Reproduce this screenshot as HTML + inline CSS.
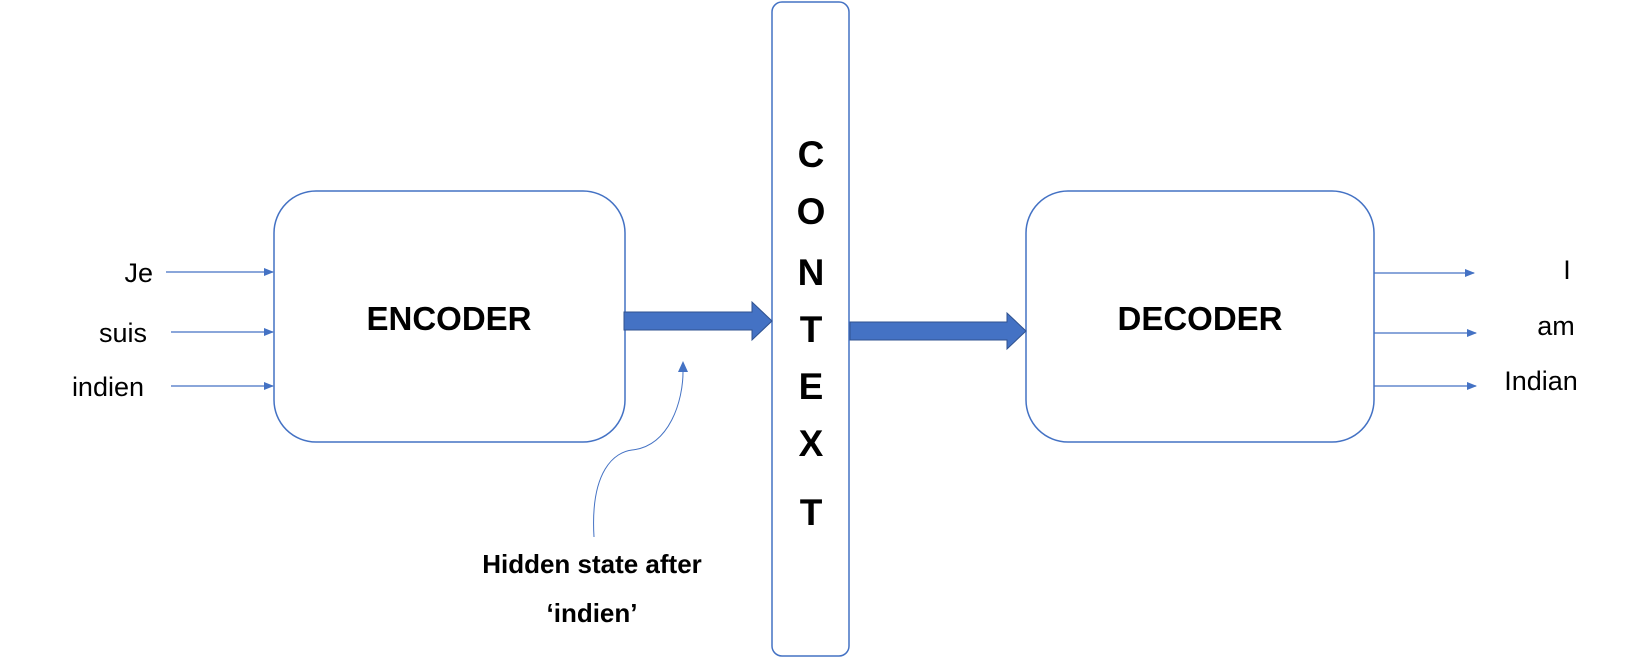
<!DOCTYPE html>
<html><head><meta charset="utf-8"><style>
html,body{margin:0;padding:0;background:#fff;width:1650px;height:659px;overflow:hidden}
svg{display:block}
text{font-family:"Liberation Sans",sans-serif;fill:#000}
</style></head><body>
<svg width="1650" height="659" viewBox="0 0 1650 659" xmlns="http://www.w3.org/2000/svg">
<defs>
<marker id="ah" markerWidth="10" markerHeight="8" refX="9" refY="4" orient="auto" markerUnits="userSpaceOnUse">
<path d="M0,0 L10,4 L0,8 Z" fill="#4472C4"/></marker>
</defs>
<rect x="274" y="191" width="351" height="251" rx="42" fill="#fff" stroke="#4472C4" stroke-width="1.5"/>
<rect x="1026" y="191" width="348" height="251" rx="42" fill="#fff" stroke="#4472C4" stroke-width="1.5"/>
<rect x="772" y="2" width="77" height="654" rx="10" fill="#fff" stroke="#4472C4" stroke-width="1.5"/>
<path d="M624,312 L752,312 L752,302 L772,321 L752,340 L752,330 L624,330 Z" fill="#4472C4" stroke="#2F528F" stroke-width="1"/>
<path d="M850,322 L1007,322 L1007,313 L1026,331 L1007,349 L1007,340 L850,340 Z" fill="#4472C4" stroke="#2F528F" stroke-width="1"/>
<line x1="166" y1="272" x2="273" y2="272" stroke="#4472C4" stroke-width="1.2" marker-end="url(#ah)"/>
<line x1="171" y1="332" x2="273" y2="332" stroke="#4472C4" stroke-width="1.2" marker-end="url(#ah)"/>
<line x1="171" y1="386" x2="273" y2="386" stroke="#4472C4" stroke-width="1.2" marker-end="url(#ah)"/>
<line x1="1374" y1="273" x2="1474" y2="273" stroke="#4472C4" stroke-width="1.2" marker-end="url(#ah)"/>
<line x1="1374" y1="333" x2="1476" y2="333" stroke="#4472C4" stroke-width="1.2" marker-end="url(#ah)"/>
<line x1="1374" y1="386" x2="1476" y2="386" stroke="#4472C4" stroke-width="1.2" marker-end="url(#ah)"/>
<path d="M594,537 C590,470 615,452 632,450 C670,446 683,400 683,372" fill="none" stroke="#4472C4" stroke-width="1"/>
<path d="M678,372 L683,361 L688,372 Z" fill="#4472C4"/>
<g font-size="27">
<text x="153" y="282" text-anchor="end">Je</text>
<text x="147" y="342" text-anchor="end">suis</text>
<text x="144" y="396" text-anchor="end">indien</text>
<text x="1567" y="279" text-anchor="middle">I</text>
<text x="1556" y="335" text-anchor="middle">am</text>
<text x="1541" y="390" text-anchor="middle">Indian</text>
</g>
<g font-size="33" font-weight="bold" text-anchor="middle">
<text x="449" y="330">ENCODER</text>
<text x="1200" y="330">DECODER</text>
</g>
<g font-size="37" font-weight="bold" text-anchor="middle">
<text x="811" y="167">C</text>
<text x="811" y="224">O</text>
<text x="811" y="285">N</text>
<text x="811" y="342">T</text>
<text x="811" y="399">E</text>
<text x="811" y="456">X</text>
<text x="811" y="525">T</text>
</g>
<g font-size="26" font-weight="bold" text-anchor="middle">
<text x="592" y="573">Hidden state after</text>
<text x="592" y="622">‘indien’</text>
</g>
</svg>
</body></html>
